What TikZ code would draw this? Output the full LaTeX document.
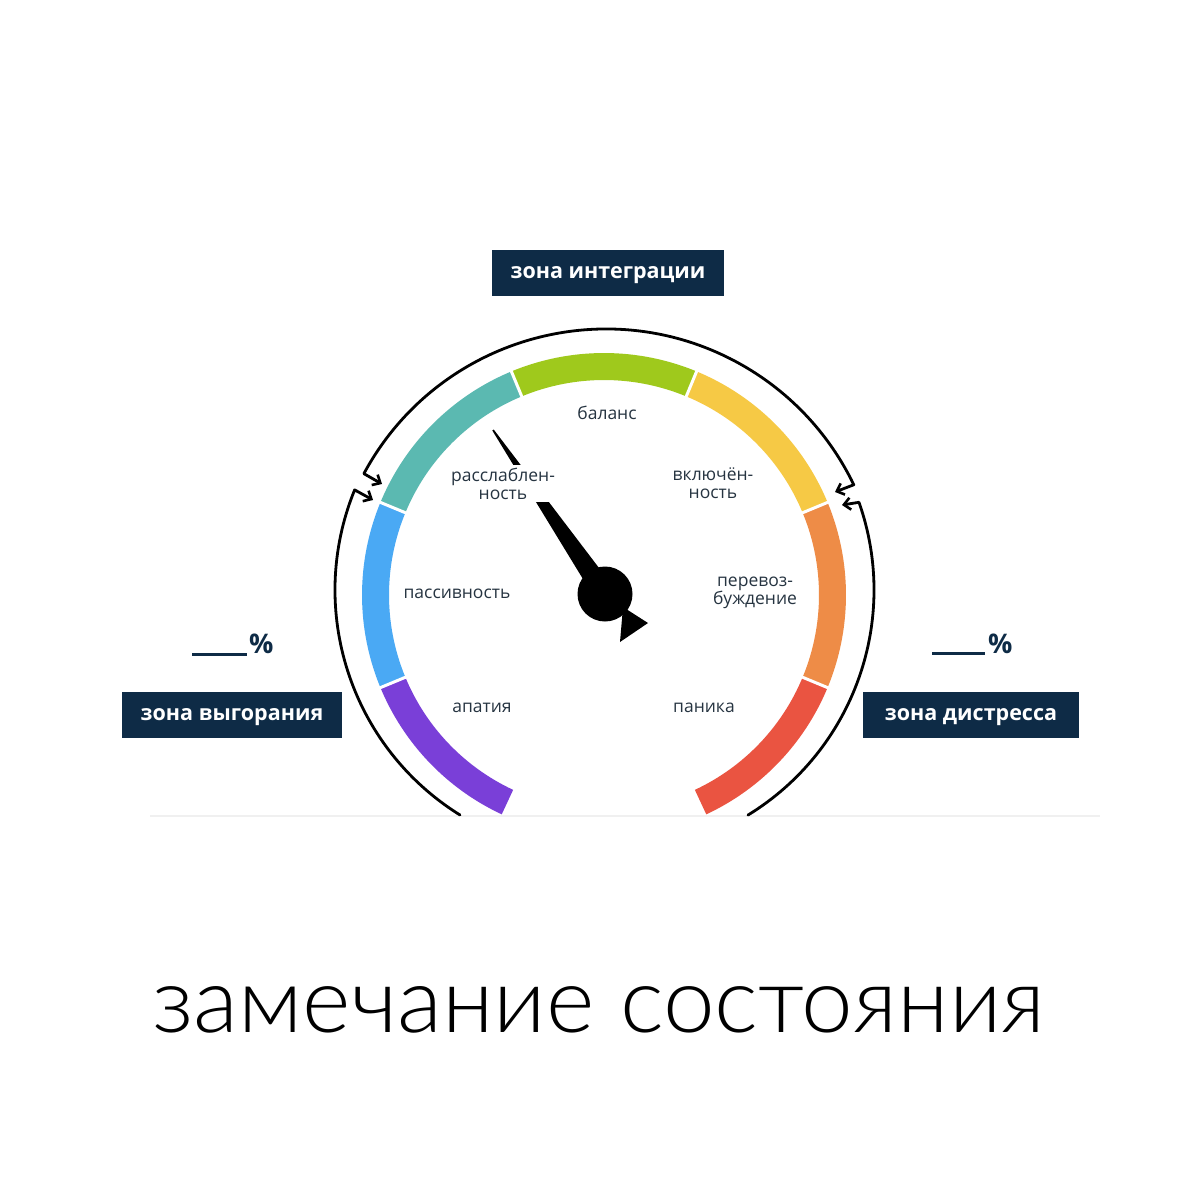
\documentclass[tikz,border=0pt]{standalone}
\usepackage{fontspec}
\usepackage{graphicx}
\setmainfont{Open Sans}
\newfontfamily\titlefont{Lato Light}
\usetikzlibrary{arrows.meta,calc}
\definecolor{navy}{HTML}{0E2B46}
\definecolor{labtext}{HTML}{263441}
\definecolor{cpurple}{HTML}{7A3FD8}
\definecolor{cblue}{HTML}{4AA9F4}
\definecolor{cteal}{HTML}{5BB9B1}
\definecolor{cgreen}{HTML}{9FC91C}
\definecolor{cyellow}{HTML}{F6C945}
\definecolor{corange}{HTML}{EE8C47}
\definecolor{cred}{HTML}{EA5441}
\newcommand\gaugeseg[3]{\fill[#3] ($(G)+(#1:242)$) arc[start angle=#1, end angle=#2, radius=242] -- ($(G)+(#2:215)$) arc[start angle=#2, end angle=#1, radius=215] -- cycle;}
\begin{document}
\begin{tikzpicture}[x=1pt,y=1pt,
  zonebox/.style={fill=navy, text=white, font=\bfseries\fontsize{21.5}{24}\selectfont, inner sep=0pt, minimum height=46pt, text height=11.5pt, text depth=0pt},
  gaugelabel/.style={text=labtext, font=\fontsize{17.5}{18}\selectfont, align=center, inner sep=0pt},
  bracket/.style={line width=2.8pt, black, line cap=round, line join=round},
  barb/.tip={Straight Barb[length=6.5pt,width=12pt,line width=2.6pt]},
  pct/.style={font=\bfseries\fontsize{27}{27}\selectfont, text=navy, anchor=base west, inner sep=0pt}
]
\fill[white] (0,0) rectangle (1200,-1200);
\useasboundingbox (0,0) rectangle (1200,-1200);

% faint baseline shadow
\draw[black!6, line width=2pt] (150,-816) -- (1100,-816);

% gauge ring
\coordinate (G) at (604,-595);
\gaugeseg{245}{202.5}{cpurple}
\gaugeseg{202.5}{157.5}{cblue}
\gaugeseg{157.5}{112.5}{cteal}
\gaugeseg{112.5}{67.5}{cgreen}
\gaugeseg{67.5}{22.5}{cyellow}
\gaugeseg{22.5}{-22.5}{corange}
\gaugeseg{-22.5}{-65}{cred}
\foreach \a in {202.5,157.5,112.5,67.5,22.5,-22.5}
  \draw[white, line width=3pt] ($(G)+(\a:212)$) -- ($(G)+(\a:245)$);

% outer brackets
\coordinate (A) at (606,-604);
\coordinate (B) at (600,-590);
\coordinate (D) at (610,-590);
\coordinate (T1) at (382,-484);
\coordinate (T3) at (835,-492);
\coordinate (T2) at (373,-500);
\coordinate (T4) at (842,-505);
\draw[bracket, barb-barb] (T1) -- ($(A)+(151.7:275)$) arc[start angle=151.7, end angle=25.7, radius=275] -- (T3);
\draw[bracket, -barb] ($(B)+(238.1:265)$) arc[start angle=238.1, end angle=157.8, radius=265] -- (T2);
\draw[bracket, -barb] ($(D)+(-58.5:264)$) arc[start angle=-58.5, end angle=19.4, radius=264] -- (T4);

% needle
\fill[black] (493.7,-429.5) -- (614.1,-587.8) -- (595.9,-600.2) -- (492.3,-430.5) -- cycle;
\fill[black] (623,-607) -- (648,-623) -- (620,-642) -- cycle;
\fill[black] (605,-594) circle[radius=27.5];

% gauge labels
\node[gaugelabel] (balans) at (607,-413) {баланс};
\node[gaugelabel, fill=white, inner xsep=3pt, inner ysep=3pt] (rassl) at (503,-483.5) {расслаблен-\\ность};
\node[gaugelabel] (vkl) at (713,-483.5) {включён-\\ность};
\node[gaugelabel] (pass) at (457,-594) {пассивность};
\node[gaugelabel] (perevoz) at (755,-593) {перевоз-\\буждение};
\node[gaugelabel] (apat) at (482,-708) {апатия};
\node[gaugelabel] (panika) at (704,-708) {паника};

% zone boxes
\node[zonebox, minimum width=232pt] (zint) at (608,-272.5) {зона интеграции};
\node[zonebox, minimum width=220pt] (zvyg) at (232,-714.5) {зона выгорания};
\node[zonebox, minimum width=216pt] (zdis) at (971,-714.5) {зона дистресса};

% percentages
\draw[navy, line width=3pt] (192,-654) -- (247,-654);
\node[pct] (pl) at (249,-653) {\%};
\draw[navy, line width=3pt] (932,-653) -- (985,-653);
\node[pct] (pr) at (988,-653) {\%};

% title
\node[inner sep=0pt, anchor=base west] (title) at (152,-1032) {\resizebox{893pt}{46pt}{\titlefont\fontsize{88}{90}\selectfont замечание состояния}};
\end{tikzpicture}
\end{document}
